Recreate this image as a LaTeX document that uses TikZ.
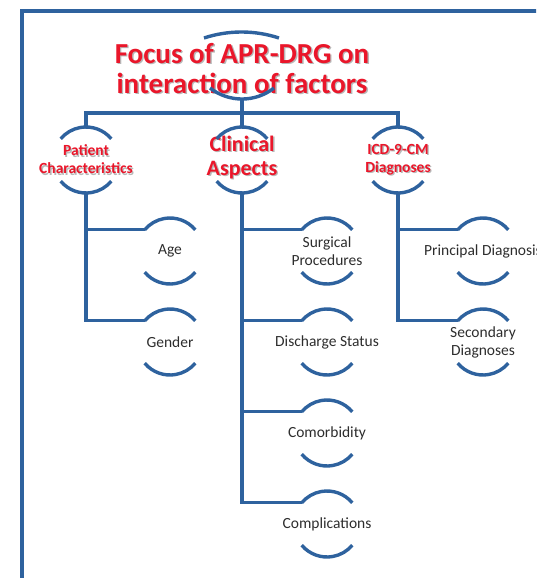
\documentclass[tikz,border=0pt]{standalone}
\usepackage{fontspec}
\setmainfont{Carlito}
\definecolor{smblue}{RGB}{46,98,158}
\definecolor{smred}{RGB}{234,22,42}
\definecolor{smtext}{RGB}{45,45,45}
% gray drop shadow behind the red labels
\newcommand{\shd}[1]{\rlap{\hspace{1.4pt}\raisebox{-1.4pt}{\textcolor{black!28}{#1}}}#1}
% top and bottom caps of a bubble, plus its three joints
\newcommand{\caps}[1]{%
  \coordinate (#1-in) at ([shift={(140:33pt)}]#1.center);
  \coordinate (#1-top) at ([shift={(90:33pt)}]#1.center);
  \coordinate (#1-bot) at ([shift={(270:33pt)}]#1.center);
  \draw[capline] ([shift={(40:33pt)}]#1.center) arc (40:140:33pt);
  \draw[capline] ([shift={(220:33pt)}]#1.center) arc (220:320:33pt);}

\begin{document}
\begin{tikzpicture}[x=1pt,y=1pt,
    capline/.style={smblue, line width=3.4pt},
    conn/.style={smblue, line width=3.4pt},
    bubble/.style={inner sep=0pt, outer sep=0pt, align=center},
    redbig/.style={bubble, text=smred, font=\fontsize{22}{24}\selectfont\bfseries},
    redsmall/.style={bubble, text=smred, font=\fontsize{15.5}{18}\selectfont\bfseries},
    leaf/.style={bubble, text=smtext, font=\fontsize{15.5}{18}\selectfont}]
    \useasboundingbox (0,0) rectangle (536,-578);
    \clip (0,0) rectangle (536,-578);
    \draw[smblue, line width=4.5pt] (22,-600) |- (560,-11);
    \node[text=smtext, font=\fontsize{38}{40}\selectfont, anchor=base east] (cut) at (4.5,-260) {s};
    % title
    \node[text=smred, align=center, inner sep=0pt, font=\fontsize{29}{30}\selectfont\bfseries] (title) at (242,-69)
        {\shd{Focus of APR-DRG on}\\\shd{interaction of factors}};
    \draw[capline] ([shift={(-38,31)}]title.center) arc (108.2:71.8:120pt);
    \draw[capline] ([shift={(-32,-19)}]title.center) arc (232:308:52pt);
    \coordinate (tbot) at (242,-99);
    \coordinate (hub) at (242,-113);
    % first level
    \node[redsmall] (pat) at (86,-160) {\shd{Patient}\\\shd{Characteristics}};
    \coordinate (clin-c) at (242,-160);
    \node[redbig] (clin) at (242,-158) {\shd{Clinical}\\\shd{Aspects}};
    \node[redsmall] (icd) at (398,-160) {\shd{ICD-9-CM}\\\shd{Diagnoses}};
    \caps{pat} \caps{clin-c} \caps{icd}
    \draw[conn] (tbot) -- (hub);
    \draw[conn] (pat-top) |- (hub) -| (icd-top);
    \draw[conn] (hub) -- (clin-c-top);
    % second level
    \node[leaf] (age) at (170,-251) {Age};
    \node[leaf] (gender) at (170,-342) {Gender};
    \node[leaf] (surg) at (327,-251) {Surgical\\Procedures};
    \node[leaf] (disch) at (327,-342) {Discharge Status};
    \node[leaf] (comorb) at (327,-433) {Comorbidity};
    \node[leaf] (compl) at (327,-524) {Complications};
    \node[leaf] (princ) at (483,-251) {Principal Diagnosis};
    \node[leaf] (second) at (483,-342) {Secondary\\Diagnoses};
    \caps{age} \caps{gender}
    \caps{surg} \caps{disch} \caps{comorb} \caps{compl}
    \caps{princ} \caps{second}
    \draw[conn] (pat-bot) |- (age-in);
    \draw[conn] (pat-bot) |- (gender-in);
    \draw[conn] (clin-c-bot) |- (surg-in);
    \draw[conn] (clin-c-bot) |- (disch-in);
    \draw[conn] (clin-c-bot) |- (comorb-in);
    \draw[conn] (clin-c-bot) |- (compl-in);
    \draw[conn] (icd-bot) |- (princ-in);
    \draw[conn] (icd-bot) |- (second-in);
\end{tikzpicture}
\end{document}
